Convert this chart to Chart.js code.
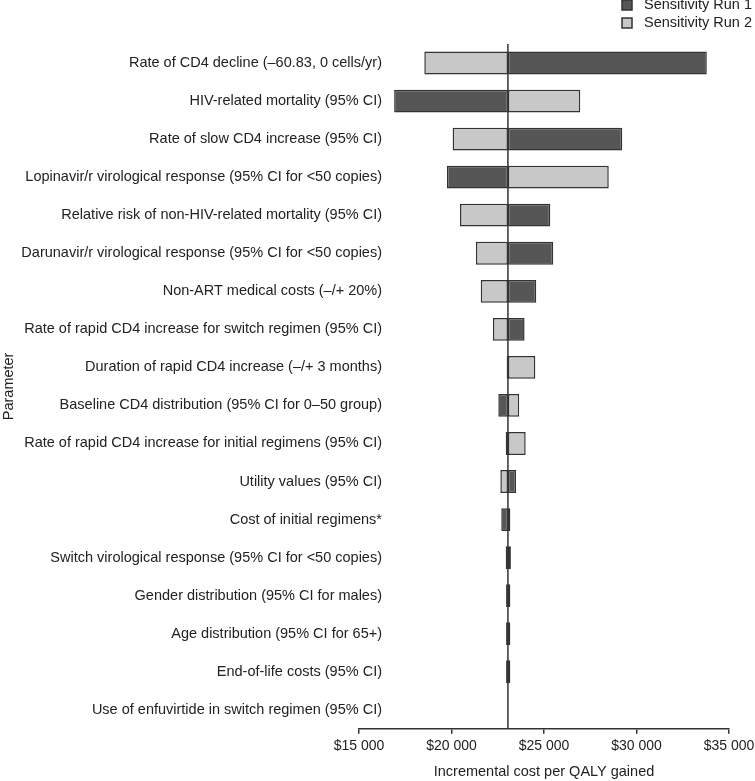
<!DOCTYPE html>
<html>
<head>
<meta charset="utf-8">
<script src="https://cdn.jsdelivr.net/npm/chart.js@4.4.1/dist/chart.umd.min.js"></script>
<style>
  html, body { margin: 0; padding: 0; background: #fff; }
  #wrap { width: 755px; height: 781px; position: relative; }
</style>
</head>
<body>
<div id="wrap"><canvas id="tornado"></canvas></div>
<script>
const parameters = [
    'Rate of CD4 decline (\u201360.83, 0 cells/yr)',
    'HIV-related mortality (95% CI)',
    'Rate of slow CD4 increase (95% CI)',
    'Lopinavir/r virological response (95% CI for <50 copies)',
    'Relative risk of non-HIV-related mortality (95% CI)',
    'Darunavir/r virological response (95% CI for <50 copies)',
    'Non-ART medical costs (\u2013/+ 20%)',
    'Rate of rapid CD4 increase for switch regimen (95% CI)',
    'Duration of rapid CD4 increase (\u2013/+ 3 months)',
    'Baseline CD4 distribution (95% CI for 0\u201350 group)',
    'Rate of rapid CD4 increase for initial regimens (95% CI)',
    'Utility values (95% CI)',
    'Cost of initial regimens*',
    'Switch virological response (95% CI for <50 copies)',
    'Gender distribution (95% CI for males)',
    'Age distribution (95% CI for 65+)',
    'End-of-life costs (95% CI)',
    'Use of enfuvirtide in switch regimen (95% CI)'
];

// incremental cost per QALY at each end of the range
const run1 = [33800, 16900, 29230, 19750, 25340, 25500, 24580, 23950, 22980, 22530, 22930, 23490, 22690, 22930, 22950, 22950, 22950, 23050];
const run2 = [18530, 26960, 20060, 28500, 20460, 21320, 21580, 22240, 24530, 23660, 24010, 22640, 23180, 23210, 23180, 23180, 23180, 23050];
const baseValue = 23050;

const seriesNames = ['Sensitivity Run 1', 'Sensitivity Run 2'];
const seriesFill = ['#565656', '#c8c8c8'];
const xTicks = [15000, 20000, 25000, 30000, 35000];

const FONT = '"Liberation Sans", Arial, Helvetica, sans-serif';
Chart.defaults.font.family = FONT;
Chart.defaults.font.size = 14.5;
Chart.defaults.color = '#222';

const baseLine = {
    id: 'baseLine',
    afterDatasetsDraw(chart) {
        const x = chart.scales.x.getPixelForValue(baseValue);
        const area = chart.chartArea;
        const ctx = chart.ctx;
        ctx.save();
        ctx.strokeStyle = '#333';
        ctx.lineWidth = 1.5;
        ctx.beginPath();
        ctx.moveTo(x, area.top);
        ctx.lineTo(x, area.bottom);
        ctx.stroke();
        ctx.restore();
    }
};

// the category labels run past the left end of the x axis, so they are drawn here
const rowLabels = {
    id: 'rowLabels',
    afterDraw(chart) {
        const ctx = chart.ctx;
        const y = chart.scales.y;
        const right = chart.chartArea.left + 23;
        ctx.save();
        ctx.font = '14.5px ' + FONT;
        ctx.fillStyle = '#222';
        ctx.textAlign = 'right';
        ctx.textBaseline = 'middle';
        chart.data.labels.forEach((l, i) => ctx.fillText(l, right, y.getPixelForValue(i)));
        ctx.restore();
    }
};

const cornerLegend = {
    id: 'cornerLegend',
    afterDraw(chart) {
        const ctx = chart.ctx;
        ctx.save();
        ctx.font = '14.5px ' + FONT;
        ctx.textBaseline = 'middle';
        const widest = Math.max(...chart.data.datasets.map(d => ctx.measureText(d.label).width));
        const textX = chart.width - 3 - widest;
        chart.data.datasets.forEach((ds, i) => {
            const y = 5 + i * 18;
            ctx.fillStyle = ds.backgroundColor;
            ctx.strokeStyle = '#333';
            ctx.lineWidth = 1.5;
            ctx.fillRect(textX - 22, y - 5, 10, 10);
            ctx.strokeRect(textX - 22, y - 5, 10, 10);
            ctx.fillStyle = '#222';
            ctx.fillText(ds.label, textX, y);
        });
        ctx.restore();
    }
};

const barStyle = {
    borderColor: '#333',
    borderWidth: 1.5,
    borderSkipped: false,
    grouped: false,
    categoryPercentage: 1.0,
    barPercentage: 0.6
};

new Chart(document.getElementById('tornado').getContext('2d'), {
    type: 'bar',
    data: {
        labels: parameters,
        datasets: [
            { label: seriesNames[0], data: run1.map(v => [baseValue, v]), backgroundColor: seriesFill[0], ...barStyle },
            { label: seriesNames[1], data: run2.map(v => [baseValue, v]), backgroundColor: seriesFill[1], ...barStyle }
        ]
    },
    options: {
        indexAxis: 'y',
        responsive: true,
        maintainAspectRatio: false,
        animation: false,
        layout: { padding: { top: 44, right: 26, bottom: 0, left: 0 } },
        scales: {
            x: {
                type: 'linear',
                min: xTicks[0],
                max: xTicks[xTicks.length - 1],
                ticks: { stepSize: 5000, padding: 4, font: { size: 14 }, callback: v => '$' + (v / 1000) + ' 000' },
                grid: { drawOnChartArea: false, drawTicks: true, tickLength: 5, color: '#333', lineWidth: 1.5 },
                border: { display: true, color: '#333', width: 1.5 },
                title: { display: true, text: 'Incremental cost per QALY gained', padding: { top: 5, bottom: 0 } },
                afterFit: s => { s.paddingRight = 26; }
            },
            y: {
                type: 'category',
                grid: { display: false, drawTicks: false },
                border: { display: false },
                ticks: { display: false },
                title: { display: true, text: 'Parameter', padding: 0 },
                afterFit: s => { s.width = 359; }
            }
        },
        plugins: {
            legend: { display: false },
            tooltip: { enabled: false }
        }
    },
    plugins: [baseLine, rowLabels, cornerLegend]
});
</script>
</body>
</html>
